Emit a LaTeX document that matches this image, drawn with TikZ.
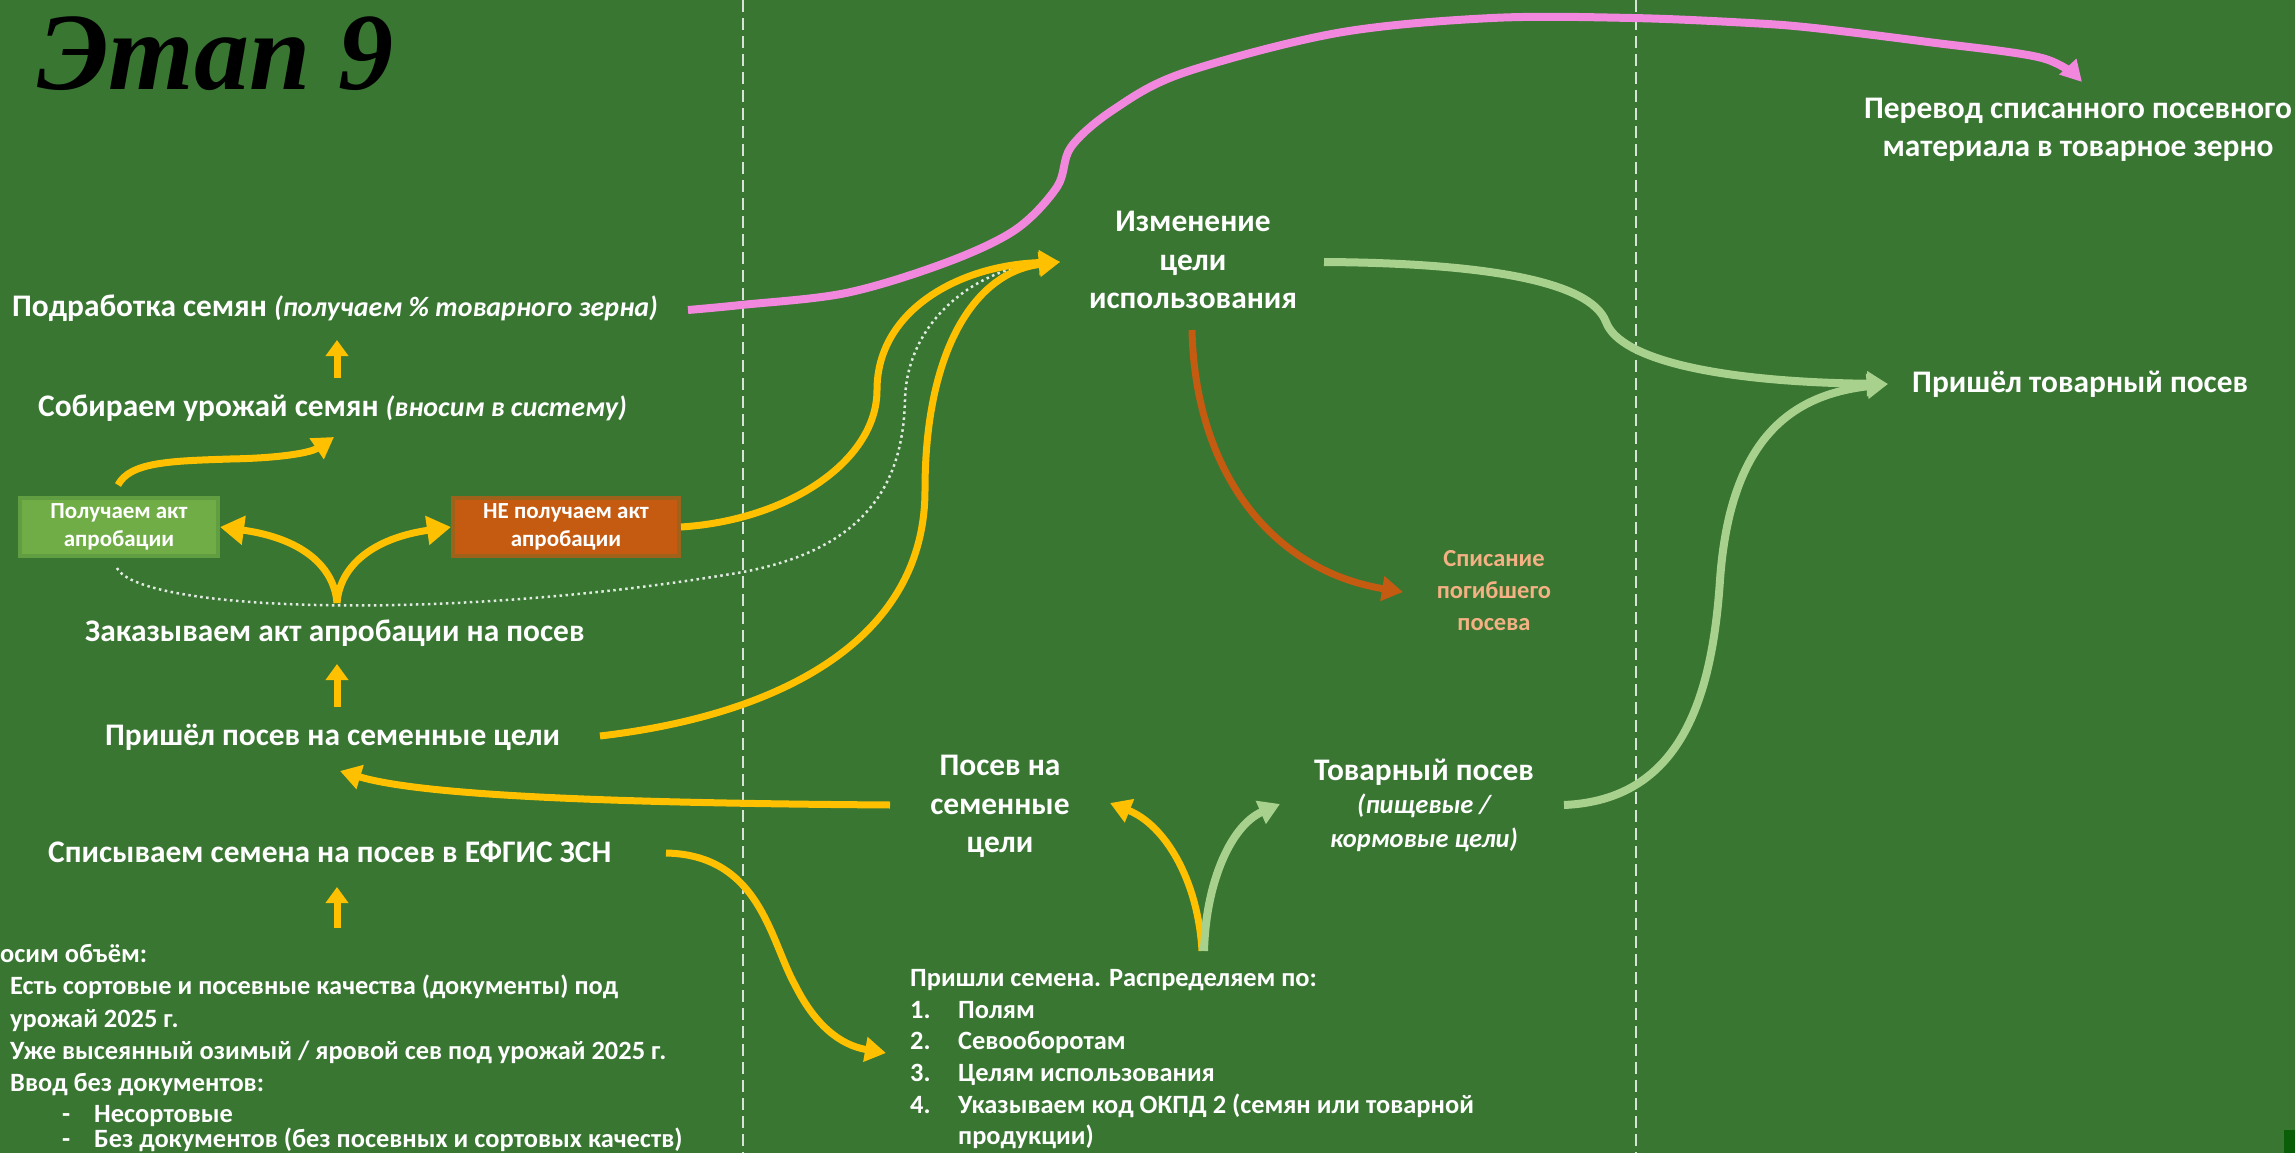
\documentclass[tikz,border=0pt]{standalone}
\usepackage{fontspec}
\setmainfont{Carlito}
\newfontfamily\titlefont{Liberation Serif}
\usetikzlibrary{arrows.meta}
\definecolor{bg}{RGB}{56,118,50}
\definecolor{ylw}{RGB}{255,192,0}
\definecolor{lgreen}{RGB}{169,209,142}
\definecolor{orng}{RGB}{197,90,17}
\definecolor{pinkc}{RGB}{242,136,222}
\definecolor{boxgreen}{RGB}{112,173,71}
\definecolor{salmon}{RGB}{244,177,131}
\definecolor{darkg}{RGB}{10,94,8}
\definecolor{tipgray}{RGB}{215,215,215}
\newcommand{\itpart}[1]{{\fontsize{28}{34}\selectfont\itshape #1}}
\tikzset{
  lbl/.style={text=white, inner sep=0pt, anchor=base west, font=\fontsize{31.4}{36}\selectfont\bfseries},
  clbl/.style={text=white, inner sep=0pt, anchor=base, font=\fontsize{31.4}{36}\selectfont\bfseries},
  lst/.style={text=white, inner sep=0pt, anchor=base west, font=\fontsize{26.4}{30}\selectfont\bfseries},
  boxnode/.style={text=white, inner sep=0pt, align=center, line width=4pt, font=\fontsize{23}{28}\selectfont\bfseries},
  yarr/.style={draw=ylw, line width=7pt, -{Triangle[length=21pt,width=24pt]}},
  ysplit/.style={draw=ylw, line width=7pt, -{Triangle[length=24pt,width=28pt]}},
  yshort/.style={draw=ylw, line width=7pt, -{Triangle[length=16pt,width=22pt]}},
  garr/.style={draw=lgreen, line width=8pt, -{Triangle[length=21pt,width=24pt]}},
  oarr/.style={draw=orng, line width=7pt, -{Triangle[length=21pt,width=24pt]}},
  parr/.style={draw=pinkc, line width=8pt, line join=round, -{Triangle[length=21pt,width=22pt]}},
  dotline/.style={draw=white, opacity=0.85, line width=2.5pt, dash pattern=on 2.5pt off 3.5pt, -{Triangle[length=14pt,width=14pt,color=tipgray]}},
  vdash/.style={draw=white, opacity=0.8, line width=1.5pt, dash pattern=on 12pt off 6pt}
}
\begin{document}
\begin{tikzpicture}[x=1pt,y=-1pt]
\fill[bg] (0,0) rectangle (2295,1153);
\useasboundingbox (0,0) rectangle (2295,1153);
\fill[darkg] (2284,1130) rectangle (2295,1153);

% dashed column separators
\draw[vdash] (743,0) -- (743,1153);
\draw[vdash] (1636,0) -- (1636,1153);

% title
\node[inner sep=0pt, anchor=base west, text=black, font=\titlefont\bfseries\itshape\fontsize{110}{110}\selectfont] (title) at (37,90) {Этап 9};

% left column labels
\node[lbl] (podr) at (12,316) {Подработка семян \itpart{(получаем \% товарного зерна)}};
\node[lbl] (sobir) at (38,416) {Собираем урожай семян \itpart{(вносим в систему)}};
\node[lbl] (zakaz) at (85,641) {Заказываем акт апробации на посев};
\node[lbl] (prishel) at (105,745) {Пришёл посев на семенные цели};
\node[lbl] (spis) at (48,862) {Списываем семена на посев в ЕФГИС ЗСН};

\node[boxnode, fill=boxgreen, draw=boxgreen!72!bg, minimum width=198pt, minimum height=58pt] (poluch) at (119,527) {Получаем акт\\апробации};
\node[boxnode, fill=orng, draw=orng!72!bg, minimum width=226pt, minimum height=58pt] (nepoluch) at (566,527) {НЕ получаем акт\\апробации};

% left bottom list
\node[lst] (l0) at (0,962) {осим объём:};
\node[lst] (l1) at (10,994) {Есть сортовые и посевные качества (документы) под};
\node[lst] (l2) at (10,1027) {урожай 2025 г.};
\node[lst] (l3) at (10,1059) {Уже высеянный озимый / яровой сев под урожай 2025 г.};
\node[lst] (l4) at (10,1091) {Ввод без документов:};
\node[lst] (l5d) at (62,1122) {-};
\node[lst] (l5) at (94,1122) {Несортовые};
\node[lst] (l6d) at (62,1147) {-};
\node[lst] (l6) at (94,1147) {Без документов (без посевных и сортовых качеств)};

% middle column
\node[clbl] (izm1) at (1193,231) {Изменение};
\node[clbl] (izm2) at (1193,270) {цели};
\node[clbl] (izm3) at (1193,308) {использования};

\node[clbl] (psem1) at (1000,775) {Посев на};
\node[clbl] (psem2) at (1000,814) {семенные};
\node[clbl] (psem3) at (1000,852) {цели};

\node[clbl] (tov1) at (1424,780) {Товарный посев};
\node[clbl, font=\fontsize{26.5}{30}\selectfont\bfseries\itshape] (tov2) at (1424,813) {(пищевые /};
\node[clbl, font=\fontsize{26.5}{30}\selectfont\bfseries\itshape] (tov3) at (1424,847) {кормовые цели)};

\node[clbl, text=salmon, font=\fontsize{24.5}{28}\selectfont\bfseries] (spn1) at (1494,566) {Списание};
\node[clbl, text=salmon, font=\fontsize{24.5}{28}\selectfont\bfseries] (spn2) at (1494,598) {погибшего};
\node[clbl, text=salmon, font=\fontsize{24.5}{28}\selectfont\bfseries] (spn3) at (1494,630) {посева};

% bottom middle list
\node[lst] (r0) at (910,986) {Пришли семена. Распределяем по:};
\node[lst] (r1n) at (910,1018) {1.};
\node[lst] (r1) at (958,1018) {Полям};
\node[lst] (r2n) at (910,1049) {2.};
\node[lst] (r2) at (958,1049) {Севооборотам};
\node[lst] (r3n) at (910,1081) {3.};
\node[lst] (r3) at (958,1081) {Целям использования};
\node[lst] (r4n) at (910,1113) {4.};
\node[lst] (r4) at (958,1113) {Указываем код ОКПД 2 (семян или товарной};
\node[lst] (r5) at (958,1144) {продукции)};

% right column
\node[clbl] (perev1) at (2078,119) {Перевод списанного посевного};
\node[clbl] (perev2) at (2078,157) {материала в товарное зерно};
\node[lbl] (prtov) at (1912,392) {Пришёл товарный посев};

% connector end points
\coordinate (izmIn) at (1060,262);
\coordinate (prtovIn) at (1888,384);
\coordinate (spnIn) at (1403,592);
\coordinate (podrOut) at (688,310);
\coordinate (perevIn) at (2082,82);
\coordinate (zakazTop) at (337,603);
\coordinate (prishliTop) at (1202,951);
\coordinate (prishliIn) at (886,1053);

% short up arrows
\draw[yshort] (337,378) -- (337,340);
\draw[yshort] (337,707) -- (337,664);
\draw[yshort] (337,928) -- (337,887);

% poluch -> sobir
\draw[yarr] (118,485) .. controls (130,462) and (170,461) .. (230,459) .. controls (285,458) and (312,452) .. (334,437);

% split from zakaz
\draw[ysplit] (zakazTop) .. controls (334,565) and (300,538) .. (poluch.east);
\draw[ysplit] (zakazTop) .. controls (340,565) and (374,538) .. (nepoluch.west);

% dotted: poluch -> izm
\draw[dotline] (117,568) .. controls (140,612) and (450,622) .. (743,572) .. controls (870,548) and (903,480) .. (905,400) .. controls (907,315) and (985,265) .. (izmIn);

% nepoluch -> izm
\draw[yarr] (nepoluch.east) .. controls (790,520) and (877,460) .. (877,390) .. controls (877,310) and (960,265) .. (izmIn);

% prishel -> izm
\draw[yarr] (600,736) .. controls (780,715) and (925,640) .. (925,490) .. controls (925,350) and (975,272) .. (izmIn);

% izm -> spisanie
\draw[oarr] (1192,330) .. controls (1195,470) and (1270,570) .. (spnIn);

% izm -> prtov
\draw[garr] (1324,262) .. controls (1480,263) and (1590,280) .. (1606,322) .. controls (1620,360) and (1720,382) .. (prtovIn);

% tovar -> prtov
\draw[garr] (1564,805) .. controls (1680,800) and (1712,700) .. (1720,580) .. controls (1730,440) and (1790,395) .. (prtovIn);

% posev sem -> prishel
\draw[yarr] (890,805) .. controls (600,803) and (420,795) .. (340,771);

% spis -> prishli
\draw[yarr] (666,853) .. controls (760,855) and (770,940) .. (795,985) .. controls (815,1025) and (840,1045) .. (prishliIn);

% split from prishli
\draw[yarr] (prishliTop) .. controls (1198,880) and (1165,825) .. (1110,803);
\draw[garr] (1204,951) .. controls (1206,880) and (1232,825) .. (1280,804);

% pink: podr -> perevod
\draw[parr] plot[smooth, tension=0.55] coordinates {(podrOut) (741,305) (846,293) (945,263) (1015,230) (1057,187) (1071,147) (1113,110) (1183,73) (1337,33) (1492,18) (1632,18) (1750,23) (1814,28) (1928,42) (2042,58) (perevIn)};
\end{tikzpicture}
\end{document}
